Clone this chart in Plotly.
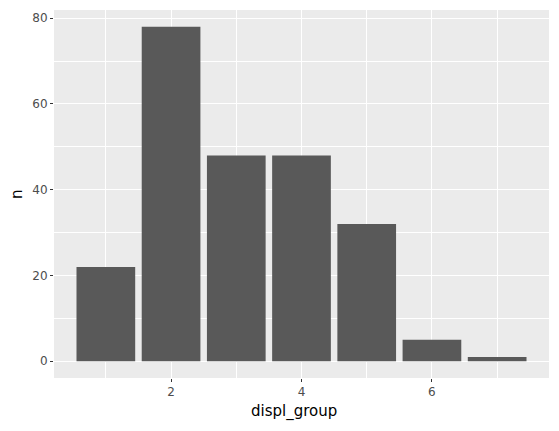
import plotly.graph_objects as go

displ_group = [1, 2, 3, 4, 5, 6, 7]
n = [22, 78, 48, 48, 32, 5, 1]
x_ticks = [2, 4, 6]
y_ticks = [0, 20, 40, 60, 80]

fig = go.Figure()
fig.add_trace(go.Bar(
    x=displ_group, y=n, width=0.9,
    marker=dict(color='#595959', line=dict(width=0)),
))

axis_common = dict(
    showgrid=True, gridcolor='white', gridwidth=1.1,
    zeroline=False, showline=False,
    ticks='outside', ticklen=3, tickcolor='#333333', tickwidth=1,
    tickfont=dict(size=12, color='#4d4d4d', family='DejaVu Sans'),
)

title_font = dict(size=15, color='black', family='DejaVu Sans')

# page body adds an 8px offset, so margins are shifted to compensate
fig.update_layout(
    width=559, height=431,
    margin=dict(l=46, r=18, t=2, b=61, autoexpand=False),
    plot_bgcolor='#ebebeb', paper_bgcolor='white',
    showlegend=False,
    xaxis=dict(axis_common, range=[0.205, 7.795], tickvals=x_ticks,
               minor=dict(showgrid=True, gridcolor='white', gridwidth=0.5, tickvals=[1, 3, 5, 7])),
    yaxis=dict(axis_common, range=[-3.9, 81.9], tickvals=y_ticks,
               minor=dict(showgrid=True, gridcolor='white', gridwidth=0.5, tickvals=[10, 30, 50, 70])),
    annotations=[
        dict(text='displ_group', xref='paper', yref='paper', x=0.484, y=-0.09,
             xanchor='center', yanchor='middle', showarrow=False, font=title_font),
        dict(text='n', xref='paper', yref='paper', x=-0.075, y=0.5, textangle=-90,
             xanchor='center', yanchor='middle', showarrow=False, font=title_font),
    ],
)

fig.write_html("out.html")
